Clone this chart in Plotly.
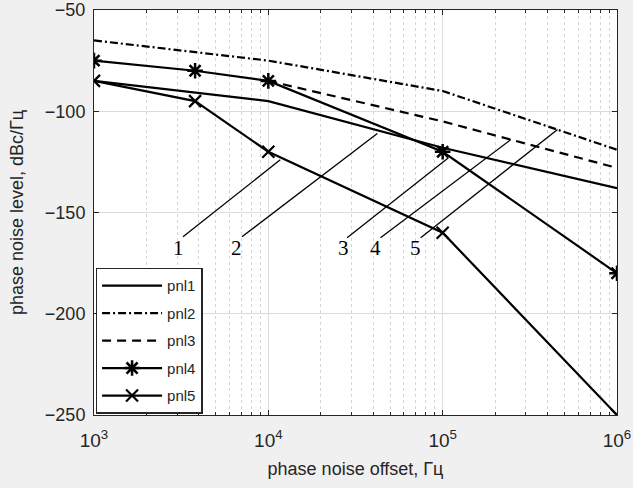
import math
import plotly.graph_objects as go

# ---- data ----
offsets = [1e3, 1e4, 1e5, 1e6]
pnl1 = [-85, -95, -118, -138]
pnl2 = [-65, -75, -90, -119]
pnl3_x = [1e4, 1e5, 1e6]
pnl3 = [-85, -105, -128]
marker_x = [1e3, 3.8e3, 1e4, 1e5, 1e6]
pnl4 = [-75, -80, -85, -120, -180]
pnl5 = [-85, -95, -120, -160, -250]

# callout labels and their leader lines (start near label, end at curve)
callout_text = ["1", "2", "3", "4", "5"]
callout_label_x = [3040, 6550, 27000, 41200, 70000]
callout_label_y = [-167.5, -167.5, -167.5, -167.5, -167.5]
callout_x0 = [3240, 7060, 28300, 44000, 74800]
callout_y0 = [-162, -162, -162.5, -162.5, -162.5]
callout_x1 = [11700, 42200, 108000, 246000, 456000]
callout_y1 = [-124, -111, -123, -114, -109]

x_ticks = [1e3, 1e4, 1e5, 1e6]
x_tick_text = ["10<sup>3</sup>", "10<sup>4</sup>", "10<sup>5</sup>", "10<sup>6</sup>"]
y_ticks = [-250, -200, -150, -100, -50]

fig = go.Figure()
LW = 2.2
fig.add_trace(go.Scatter(x=offsets, y=pnl1, mode="lines", name="pnl1",
                         line=dict(color="black", width=LW), legendgroup="a"))
fig.add_trace(go.Scatter(x=offsets, y=pnl2, mode="lines", name="pnl2",
                         line=dict(color="black", width=LW, dash="8px,3px,2px,3px"), legendgroup="b"))
fig.add_trace(go.Scatter(x=pnl3_x, y=pnl3, mode="lines", name="pnl3",
                         line=dict(color="black", width=LW, dash="9px,6px"), legendgroup="c"))
fig.add_trace(go.Scatter(x=marker_x, y=pnl4, mode="lines+markers", name="pnl4",
                         line=dict(color="black", width=LW),
                         marker=dict(symbol="asterisk-open", size=13, color="black",
                                     line=dict(color="black", width=2.5)), legendgroup="d"))
fig.add_trace(go.Scatter(x=marker_x, y=pnl5, mode="lines+markers", name="pnl5",
                         line=dict(color="black", width=LW),
                         marker=dict(symbol="x-thin-open", size=12, color="black",
                                     line=dict(color="black", width=2.2)), legendgroup="e"))

for i in range(len(callout_text)):
    fig.add_trace(go.Scatter(x=[callout_x0[i], callout_x1[i]], y=[callout_y0[i], callout_y1[i]],
                             mode="lines", line=dict(color="black", width=1.3),
                             showlegend=False, hoverinfo="skip"))
    fig.add_annotation(x=math.log10(callout_label_x[i]), y=callout_label_y[i], xref="x", yref="y",
                       text=callout_text[i], showarrow=False,
                       font=dict(family="Liberation Serif", size=21, color="black"))

fig.update_layout(
    width=633, height=488,
    margin=dict(l=94, r=16, t=10, b=73, autoexpand=False),
    paper_bgcolor="#f0f0f0", plot_bgcolor="white",
    font=dict(family="Liberation Sans", size=18, color="#262626"),
    showlegend=True,
    legend=dict(x=0.003, y=0.003, xanchor="left", yanchor="bottom",
                bgcolor="white", bordercolor="#262626", borderwidth=1.5,
                font=dict(size=15, color="#262626"), tracegroupgap=5,
                itemwidth=60),
)
fig.update_xaxes(type="log", range=[3, 6], tickvals=x_ticks, ticktext=x_tick_text,
                 showline=True, linecolor="#262626", linewidth=1, mirror="allticks",
                 ticks="inside", ticklen=5, tickcolor="#262626",
                 showgrid=True, gridcolor="#dcdcdc", gridwidth=1,
                 minor=dict(ticks="inside", ticklen=3, tickcolor="#262626", showgrid=True,
                            gridcolor="#d6d6d6", griddash="dot", dtick="D1"),
                 title=dict(text="phase noise offset, Гц", standoff=12, font=dict(size=18)),
                 tickfont=dict(size=19), ticklabelstandoff=8, automargin=False,
                 zeroline=False)
fig.update_yaxes(range=[-250, -50], tickvals=y_ticks,
                 showline=True, linecolor="#262626", linewidth=1, mirror="allticks",
                 ticks="inside", ticklen=5, tickcolor="#262626",
                 showgrid=True, gridcolor="#dcdcdc", gridwidth=1,
                 title=dict(text="phase noise level, dBc/Гц", standoff=16, font=dict(size=18)),
                 tickfont=dict(size=18), ticklabelstandoff=4, automargin=False,
                 zeroline=False)

fig.write_html("out.html")
